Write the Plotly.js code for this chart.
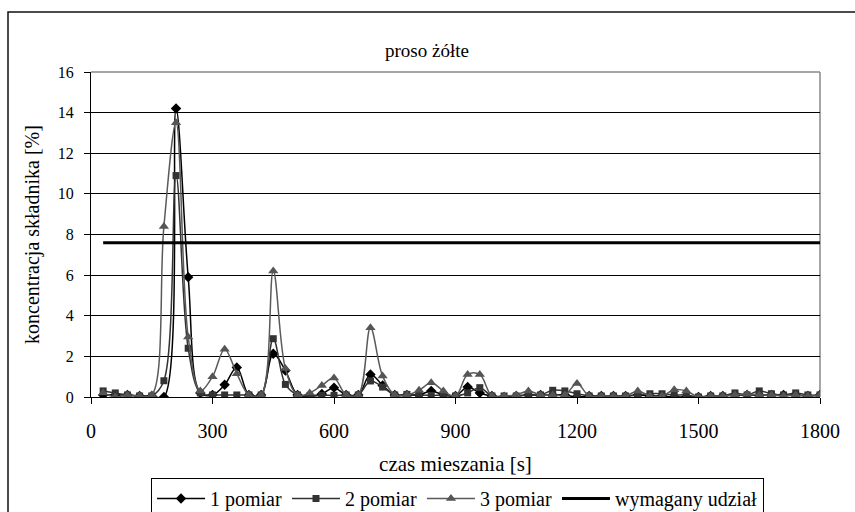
<!DOCTYPE html>
<html>
<head>
<meta charset="utf-8">
<script src="https://cdn.plot.ly/plotly-3.0.1.min.js"></script>
<style>html,body{margin:0;padding:0;background:#fff;}#chart{width:855px;height:512px;}</style>
</head>
<body>
<div id="chart"></div>
<script>
// time of mixing [s]
var czas = [30,60,90,120,150,180,210,240,270,300,330,360,390,420,450,480,510,540,570,600,
            630,660,690,720,750,780,810,840,870,900,930,960,990,1020,1050,1080,1110,1140,1170,1200,
            1230,1260,1290,1320,1350,1380,1410,1440,1470,1500,1530,1560,1590,1620,1650,1680,1710,1740,1770,1800];
var pomiar1 = [0.10,0.10,0.10,0.05,0.05,0.00,14.2,5.90,0.20,0.10,0.60,1.45,0.10,0.10,2.13,1.30,0.10,0.05,0.15,0.46,
               0.10,0.10,1.11,0.57,0.10,0.10,0.10,0.30,0.10,0.05,0.49,0.20,0.05,0.00,0.05,0.10,0.10,0.10,0.10,0.00,
               0.05,0.05,0.05,0.05,0.10,0.05,0.05,0.00,0.00,0.00,0.05,0.05,0.10,0.10,0.10,0.10,0.10,0.10,0.05,0.10];
var pomiar2 = [0.30,0.20,0.10,0.05,0.05,0.80,10.9,2.40,0.20,0.10,0.10,0.10,0.10,0.10,2.87,0.62,0.10,0.05,0.08,0.08,
               0.10,0.10,0.79,0.49,0.10,0.13,0.10,0.08,0.10,0.05,0.20,0.46,0.05,0.05,0.05,0.10,0.10,0.33,0.30,0.16,
               0.05,0.05,0.05,0.05,0.10,0.16,0.16,0.10,0.10,0.00,0.05,0.05,0.20,0.10,0.30,0.16,0.10,0.20,0.10,0.10];
var pomiar3 = [0.20,0.00,0.10,0.05,0.10,8.40,13.5,2.95,0.30,1.00,2.35,1.15,0.10,0.10,6.20,1.40,0.10,0.20,0.57,0.93,
               0.10,0.10,3.41,1.03,0.10,0.10,0.33,0.70,0.30,0.05,1.11,1.11,0.05,0.05,0.10,0.30,0.10,0.10,0.10,0.66,
               0.05,0.05,0.05,0.05,0.30,0.05,0.05,0.36,0.30,0.00,0.05,0.05,0.10,0.15,0.10,0.10,0.05,0.10,0.05,0.10];
var wymagany = [7.6,7.6,7.6,7.6,7.6,7.6,7.6,7.6,7.6,7.6,7.6,7.6,7.6,7.6,7.6,7.6,7.6,7.6,7.6,7.6,
                7.6,7.6,7.6,7.6,7.6,7.6,7.6,7.6,7.6,7.6,7.6,7.6,7.6,7.6,7.6,7.6,7.6,7.6,7.6,7.6,
                7.6,7.6,7.6,7.6,7.6,7.6,7.6,7.6,7.6,7.6,7.6,7.6,7.6,7.6,7.6,7.6,7.6,7.6,7.6,7.6];
var nazwy = ['1 pomiar','2 pomiar','3 pomiar','wymagany udział'];
var xTicks = [0,300,600,900,1200,1500,1800];
var yTicks = [0,2,4,6,8,10,12,14,16];

var F = 'Liberation Serif, Times New Roman, serif';

var traces = [
  {x: czas, y: pomiar1, name: nazwy[0], mode: 'lines+markers', type: 'scatter',
   line: {color: '#000000', width: 1.5, shape: 'spline', smoothing: 1},
   marker: {symbol: 'diamond', size: 8, color: '#000000'}},
  {x: czas, y: pomiar2, name: nazwy[1], mode: 'lines+markers', type: 'scatter',
   line: {color: '#333333', width: 1.5, shape: 'spline', smoothing: 1},
   marker: {symbol: 'square', size: 7, color: '#333333'}},
  {x: czas, y: pomiar3, name: nazwy[2], mode: 'lines+markers', type: 'scatter',
   line: {color: '#5a5a5a', width: 1.5, shape: 'spline', smoothing: 1},
   marker: {symbol: 'triangle-up', size: 9, color: '#555555'}},
  {x: czas, y: wymagany, name: nazwy[3], mode: 'lines', type: 'scatter',
   line: {color: '#000000', width: 3}}
];

var layout = {
  width: 855, height: 512,
  margin: {l: 91, r: 35, t: 72, b: 115},
  paper_bgcolor: '#ffffff', plot_bgcolor: '#ffffff',
  font: {family: F, color: '#000000', size: 15},
  title: {text: 'proso żółte', font: {family: F, size: 19, color: '#000'},
          xref: 'container', x: 427/855, xanchor: 'center', yref: 'container', y: 1 - 50/512, yanchor: 'middle'},
  xaxis: {range: [0, 1800], tickvals: xTicks, ticktext: xTicks.map(String),
          showline: true, linecolor: '#000', linewidth: 1, showgrid: false, zeroline: false,
          ticks: 'outside', ticklen: 6, tickcolor: '#000', tickwidth: 1, ticklabelstandoff: 10,
          tickfont: {family: F, size: 20, color: '#000'},
          title: {text: 'czas mieszania [s]', font: {family: F, size: 21, color: '#000'}, standoff: 15}},
  yaxis: {range: [0, 16], tickvals: yTicks, ticktext: yTicks.map(String),
          showline: true, linecolor: '#000', linewidth: 1, showgrid: true, gridcolor: '#000', gridwidth: 1,
          zeroline: false, ticks: 'outside', ticklen: 6, tickcolor: '#000', tickwidth: 1, ticklabelstandoff: 7,
          tickfont: {family: F, size: 16, color: '#000'},
          title: {text: 'koncentracja składnika [%]', font: {family: F, size: 20, color: '#000'}, standoff: 12}},
  showlegend: true,
  legend: {orientation: 'h', xref: 'container', x: 151/855, xanchor: 'left',
           yref: 'container', y: 1 - 478/512, yanchor: 'top',
           bordercolor: '#000', borderwidth: 1, bgcolor: '#fff',
           font: {family: F, size: 20, color: '#000'}, itemwidth: 48, tracegroupgap: 0},
  shapes: [
    {type: 'line', xref: 'x domain', yref: 'y domain', x0: 0, x1: 1, y0: 1, y1: 1,
     line: {color: '#888', width: 1.5}, layer: 'above'},
    {type: 'line', xref: 'x domain', yref: 'y domain', x0: 1, x1: 1, y0: 0, y1: 1,
     line: {color: '#888', width: 1.5}, layer: 'below'},
    {type: 'rect', xref: 'paper', yref: 'paper', x0: (8 - 91) / 729, x1: (860 - 91) / 729,
     y0: (397 - 520) / 325, y1: (397 - 12) / 325, line: {color: '#111', width: 1.5}, layer: 'above'}
  ]
};

Plotly.newPlot('chart', traces, layout, {displayModeBar: false, staticPlot: true});
</script>
</body>
</html>
